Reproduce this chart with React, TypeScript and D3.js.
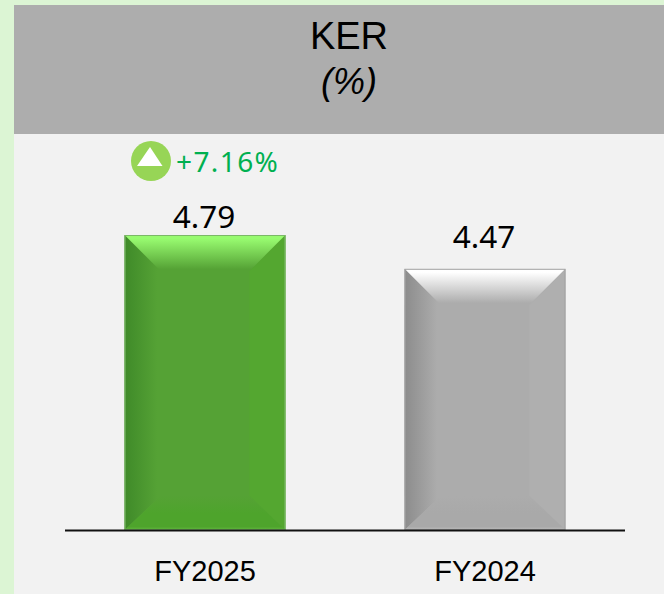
import React from "react";
import * as d3 from "d3";

const categories = ["FY2025", "FY2024"];
const values = [4.79, 4.47];
const valueLabels = ["4.79", "4.47"];
const changeLabel = "+7.16%";
const titleLines = ["KER", "(%)"];
const labelGaps = [7, 21];
const palettes = [
  { id: "g", base: "#55a235", top: "#98fb70", mid: "#55a235", left: "#3f8a29", right: "#54a730", bottom: "#4ea42c", bottomEdge: "#62b83f", edge: "#7cb868" },
  { id: "s", base: "#acacac", top: "#ffffff", mid: "#acacac", left: "#8c8c8c", right: "#afafaf", bottom: "#a9a9a9", bottomEdge: "#bcbcbc", edge: "#a4a4a4" },
];

const W = 664, H = 594;
const x = d3.scaleBand<string>().domain(categories).range([65, 625]).paddingInner(3 / 7).paddingOuter(3 / 14).align(0.5);
const y = d3.scaleLinear().domain([2, 4.79]).range([530, 235]);
const line = d3.line();
const fontA = "'Liberation Sans', Arial, sans-serif";
const fontB = "'Noto Sans', 'Open Sans', sans-serif";

export default function App() {
  const bw = x.bandwidth();
  return (
    <svg width={W} height={H} viewBox={`0 0 ${W} ${H}`} style={{ position: "absolute", left: 0, top: 0, display: "block" }}>
      <defs>
        {palettes.map((p) => (
          <React.Fragment key={p.id}>
            <linearGradient id={`${p.id}T`} x1="0" y1="0" x2="0" y2="1">
              <stop offset="0.1" stopColor={p.top} />
              <stop offset="0.95" stopColor={p.mid} />
            </linearGradient>
            <linearGradient id={`${p.id}L`} x1="0" y1="0" x2="1" y2="0">
              <stop offset="0" stopColor={p.left} />
              <stop offset="0.9" stopColor={p.mid} />
            </linearGradient>
            <linearGradient id={`${p.id}B`} x1="0" y1="0" x2="0" y2="1">
              <stop offset="0" stopColor={p.mid} />
              <stop offset="0.5" stopColor={p.bottom} />
              <stop offset="0.9" stopColor={p.bottom} />
              <stop offset="1" stopColor={p.bottomEdge} />
            </linearGradient>
          </React.Fragment>
        ))}
      </defs>
      <rect x={0} y={0} width={W} height={H} fill="#dcf5d4" />
      <rect x={14} y={5} width={W - 14} height={H - 5} fill="#f2f2f2" />
      <rect x={14} y={5} width={W - 14} height={129} fill="#adadad" />
      <text x={349} y={49} textAnchor="middle" fontFamily={fontA} fontSize={38} fill="#000">{titleLines[0]}</text>
      <text x={349} y={94} textAnchor="middle" fontFamily={fontA} fontSize={36} fontStyle="italic" fill="#000">{titleLines[1]}</text>

      {categories.map((c, i) => {
        const p = palettes[i];
        const x0 = x(c)! - 0.4;
        const x1 = x(c)! + bw + 0.4;
        const y0 = y(values[i]);
        const y1 = y(2);
        const d = 36;
        const db = 34;
        const pts = {
          t: [[x0, y0], [x1, y0], [x1 - d, y0 + d], [x0 + d, y0 + d]],
          l: [[x0, y0], [x0 + d, y0 + d], [x0 + d, y1 - db], [x0, y1]],
          r: [[x1, y0], [x1 - d, y0 + d], [x1 - d, y1 - db], [x1, y1]],
          b: [[x0, y1], [x0 + d, y1 - db], [x1 - d, y1 - db], [x1, y1]],
        } as Record<string, [number, number][]>;
        return (
          <g key={c}>
            <rect x={x0} y={y0} width={x1 - x0} height={y1 - y0} fill={p.base} />
            <path d={line(pts.l)! + "Z"} fill={`url(#${p.id}L)`} />
            <path d={line(pts.r)! + "Z"} fill={p.right} />
            <path d={line(pts.b)! + "Z"} fill={`url(#${p.id}B)`} />
            <path d={line(pts.t)! + "Z"} fill={`url(#${p.id}T)`} />
            <rect x={x0 + 0.5} y={y0 + 0.5} width={x1 - x0 - 1} height={y1 - y0 - 1} fill="none" stroke={p.edge} strokeWidth={1} />
            <text x={(x0 + x1) / 2 - 1} y={y0 - labelGaps[i]} textAnchor="middle" fontFamily={fontB} fontSize={31.5} fill="#000">{valueLabels[i]}</text>
            <text x={(x0 + x1) / 2} y={581} textAnchor="middle" fontFamily={fontA} fontSize={29} fill="#000">{c}</text>
          </g>
        );
      })}
      <line x1={65} x2={625} y1={530.5} y2={530.5} stroke="#111" strokeWidth={2} />

      <circle cx={151} cy={161} r={20} fill="#97d556" />
      <path d="M150 147 L162.5 166 L137 166 Z" fill="#fff" />
      <text x={176} y={172} fontFamily={fontB} fontSize={28} letterSpacing={1.4} fill="#00b050">{changeLabel}</text>
    </svg>
  );
}
